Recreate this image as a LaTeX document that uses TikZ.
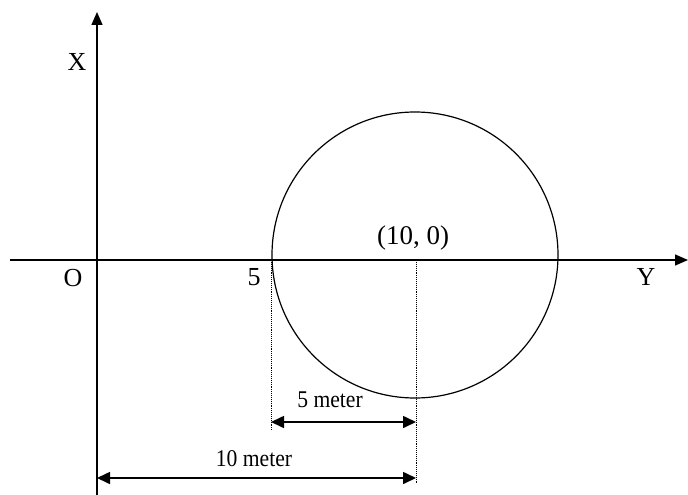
\documentclass[tikz,border=0pt]{standalone}
\usepackage{fontspec}
\setmainfont{Liberation Serif}
\newfontfamily\narrowserif[FakeStretch=0.9]{Liberation Serif}
\usetikzlibrary{arrows.meta}
\begin{document}
\begin{tikzpicture}[x=1pt,y=-1pt,
  axisline/.style={line width=1.4pt,-{Triangle[length=13pt,width=11pt]}},
  dimline/.style={line width=1.6pt,{Triangle[length=13pt,width=12pt]}-{Triangle[length=13pt,width=12pt]}},
  guide/.style={densely dotted,line width=0.9pt},
  lbl/.style={font=\fontsize{26}{30}\selectfont,inner sep=0pt},
  dimlbl/.style={font=\narrowserif\fontsize{24}{28}\selectfont,inner sep=0pt}]
\useasboundingbox (0,0) rectangle (688,495);
\fill[white] (0,0) rectangle (688,495);
% axes
\coordinate (hl) at (10,260);
\coordinate (hr) at (688,260);
\coordinate (vb) at (97,495);
\coordinate (vt) at (97,12);
\draw[axisline] (hl) -- (hr);
\draw[axisline] (vb) -- (vt);
% circle
\coordinate (cc) at (415,255);
\draw[line width=1.2pt] (cc) circle[radius=143pt];
% guides
\coordinate (g5t) at (271,262);
\coordinate (g5b) at (271,431);
\coordinate (g10t) at (416,262);
\coordinate (g10b) at (416,484);
\draw[guide] (g5t) -- (g5b);
\draw[guide] (g10t) -- (g10b);
% dimensions
\coordinate (d5l) at (271,422);
\coordinate (d5r) at (416,422);
\coordinate (d10l) at (97,478);
\coordinate (d10r) at (416,478);
\draw[dimline] (d5l) -- (d5r);
\draw[dimline] (d10l) -- (d10r);
% labels
\node[lbl] (lx) at (77,62) {X};
\node[lbl] (lo) at (73,278) {O};
\node[lbl] (l5) at (254,277) {5};
\node[lbl] (ly) at (646,277) {Y};
\node[lbl,font=\fontsize{27}{31}\selectfont] (lc) at (413,238) {(10, 0)};
\node[dimlbl] (lm5) at (330,400) {5 meter};
\node[dimlbl] (lm10) at (254,459) {10 meter};
\end{tikzpicture}
\end{document}
